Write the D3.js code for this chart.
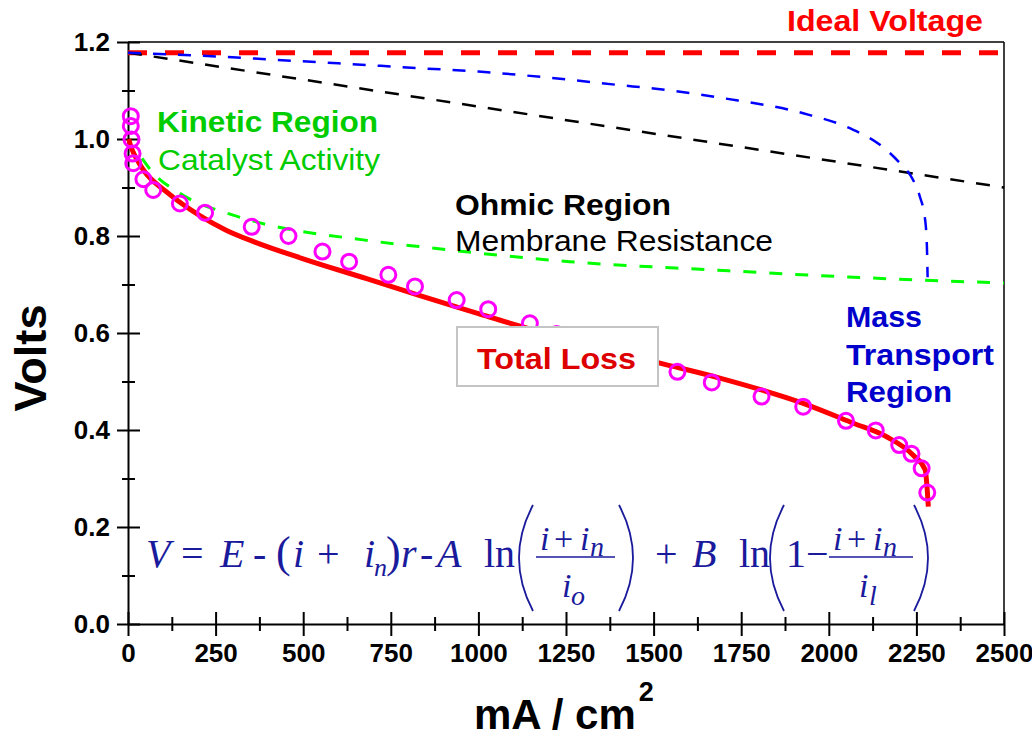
<!DOCTYPE html>
<html><head><meta charset="utf-8">
<script src="https://cdn.jsdelivr.net/npm/d3@7"></script>
<style>body{margin:0;background:#fff} svg{display:block}</style>
</head><body>
<svg id="chart" width="1032" height="739"></svg>
<script>
// ---------- data ----------
const yTicks = [0, 0.2, 0.4, 0.6, 0.8, 1.0, 1.2];
const yMinorTicks = [0.1, 0.3, 0.5, 0.7, 0.9, 1.1];
const xTicks = [0, 250, 500, 750, 1000, 1250, 1500, 1750, 2000, 2250, 2500];
const xMinorTicks = [125, 375, 625, 875, 1125, 1375, 1625, 1875, 2125, 2375];

const idealI = [0, 2500];
const idealV = [1.178, 1.178];

const ohmicI = [0, 2500];
const ohmicV = [1.178, 0.900];

const massI = [0, 200, 405, 600, 833, 1000, 1119, 1250, 1404, 1500, 1700, 1927, 2070, 2146, 2203, 2241, 2260, 2275, 2280, 2282];
const massV = [1.178, 1.172, 1.164, 1.156, 1.146, 1.139, 1.132, 1.123, 1.111, 1.104, 1.084, 1.053, 1.019, 0.988, 0.950, 0.915, 0.881, 0.833, 0.778, 0.715];

const kineticI = [40, 68, 148, 300, 377, 671, 833, 1261, 1670, 2070, 2500];
const kineticV = [0.960, 0.933, 0.888, 0.843, 0.827, 0.792, 0.778, 0.747, 0.730, 0.715, 0.703];

const totalI = [2, 8, 18, 30, 45, 110, 205, 280, 360, 500, 681, 833, 1000, 1119, 1300, 1518, 1689, 1927, 2070, 2165, 2241, 2275, 2281, 2284];
const totalV = [1.000, 0.985, 0.968, 0.952, 0.935, 0.891, 0.842, 0.812, 0.788, 0.753, 0.712, 0.677, 0.640, 0.614, 0.578, 0.538, 0.507, 0.455, 0.414, 0.386, 0.348, 0.318, 0.276, 0.242];

const measI = [8, 8, 10, 13, 15, 44, 72, 148, 220, 353, 458, 555, 631, 743, 819, 938, 1028, 1147, 1223, 1330, 1440, 1568, 1666, 1808, 1927, 2049, 2134, 2201, 2236, 2265, 2281];
const measV = [1.047, 1.027, 0.999, 0.970, 0.950, 0.917, 0.895, 0.867, 0.848, 0.819, 0.800, 0.768, 0.747, 0.720, 0.696, 0.668, 0.649, 0.620, 0.598, 0.580, 0.558, 0.520, 0.498, 0.469, 0.448, 0.419, 0.399, 0.369, 0.351, 0.321, 0.271];

// ---------- setup ----------
const svg = d3.select("#chart");
const x = d3.scaleLinear().domain([0, 2500]).range([128, 1004]);
const y = d3.scaleLinear().domain([0, 1.2]).range([624, 42]);
const SANS = "'Liberation Sans', Arial, sans-serif";
const SERIF = "'Liberation Serif', 'Times New Roman', serif";

const zip = (a, b) => a.map((v, i) => [v, b[i]]);
const line = d3.line().x(d => x(d[0])).y(d => y(d[1])).curve(d3.curveMonotoneX);

// frame
svg.append("line").attr("x1", x(0)).attr("x2", x(2500)).attr("y1", y(1.2)).attr("y2", y(1.2))
  .attr("stroke", "#000").attr("stroke-width", 1.5);
svg.append("line").attr("x1", x(2500)).attr("x2", x(2500)).attr("y1", y(1.2)).attr("y2", y(0))
  .attr("stroke", "#000").attr("stroke-width", 1.5);

// axes
function styleAxis(g, inner, outer, vertical) {
  g.select(".domain").attr("stroke", "#000").attr("stroke-width", 2);
  g.selectAll(".tick line").attr("stroke", "#000").attr("stroke-width", 2);
  if (vertical) g.selectAll(".tick line").attr("x1", inner).attr("x2", -outer);
  else g.selectAll(".tick line").attr("y1", -inner).attr("y2", outer);
}
const gy = svg.append("g").attr("transform", `translate(${x(0)},0)`)
  .call(d3.axisLeft(y).tickValues(yTicks).tickFormat(d3.format(".1f")).tickSize(1).tickSizeOuter(0).tickPadding(17));
styleAxis(gy, 12, 11, true);
gy.selectAll(".tick text").attr("font-family", SANS).attr("font-weight", "bold").attr("font-size", 26).attr("fill", "#000");
const gy2 = svg.append("g").attr("transform", `translate(${x(0)},0)`)
  .call(d3.axisLeft(y).tickValues(yMinorTicks).tickFormat("").tickSize(1).tickSizeOuter(0));
styleAxis(gy2, 7, 6, true);
gy2.select(".domain").remove();

const gx = svg.append("g").attr("transform", `translate(0,${y(0)})`)
  .call(d3.axisBottom(x).tickValues(xTicks).tickFormat(d3.format("d")).tickSize(1).tickSizeOuter(0).tickPadding(19));
styleAxis(gx, 12, 12, false);
gx.selectAll(".tick text").attr("font-family", SANS).attr("font-weight", "bold").attr("font-size", 26).attr("fill", "#000");
const gx2 = svg.append("g").attr("transform", `translate(0,${y(0)})`)
  .call(d3.axisBottom(x).tickValues(xMinorTicks).tickFormat("").tickSize(1).tickSizeOuter(0));
styleAxis(gx2, 7, 7, false);
gx2.select(".domain").remove();

// curves
svg.append("path").datum(zip(idealI, idealV)).attr("d", line).attr("fill", "none")
  .attr("stroke", "#ff0000").attr("stroke-width", 5).attr("stroke-dasharray", "19,18");
svg.append("path").datum(zip(ohmicI, ohmicV)).attr("d", line).attr("fill", "none")
  .attr("stroke", "#000").attr("stroke-width", 2.5).attr("stroke-dasharray", "14,12");
svg.append("path").datum(zip(massI, massV)).attr("d", line).attr("fill", "none")
  .attr("stroke", "#0000ff").attr("stroke-width", 2.5).attr("stroke-dasharray", "13,12");
svg.append("path").datum(zip(kineticI, kineticV)).attr("d", line).attr("fill", "none")
  .attr("stroke", "#00ff00").attr("stroke-width", 3).attr("stroke-dasharray", "13,13");
svg.append("path").datum(zip(totalI, totalV)).attr("d", line).attr("fill", "none")
  .attr("stroke", "#ff0000").attr("stroke-width", 5);

svg.append("g").selectAll("circle").data(zip(measI, measV)).join("circle")
  .attr("cx", d => x(d[0])).attr("cy", d => y(d[1])).attr("r", 7.5)
  .attr("fill", "none").attr("stroke", "#ff00ff").attr("stroke-width", 3);

// Total Loss box
svg.append("rect").attr("x", 457).attr("y", 327).attr("width", 201).attr("height", 59)
  .attr("fill", "#fff").attr("stroke", "#c4c4c4").attr("stroke-width", 2);

// labels
function label(t, xx, yy, size, weight, color, len) {
  const el = svg.append("text").attr("x", xx).attr("y", yy).text(t)
    .attr("font-family", SANS).attr("font-size", size).attr("font-weight", weight).attr("fill", color);
  if (len) el.attr("textLength", len).attr("lengthAdjust", "spacingAndGlyphs");
  return el;
}
label("Ideal Voltage", 787, 31, 29, "bold", "#ff0000", 196);
label("Kinetic Region", 157, 132, 29, "bold", "#00cc00", 221);
label("Catalyst Activity", 158, 170, 30, "normal", "#00cc00", 222);
label("Ohmic Region", 455, 215, 29, "bold", "#000", 216);
label("Membrane Resistance", 455, 251, 30, "normal", "#000", 318);
label("Total Loss", 477, 369, 30, "bold", "#dd0000", 159);
label("Mass", 846, 327, 29, "bold", "#0000cc", 76);
label("Transport", 846, 365, 29, "bold", "#0000cc", 148);
label("Region", 846, 402, 29, "bold", "#0000cc", 106);

// axis titles
svg.append("text").attr("transform", "translate(46,358) rotate(-90)").attr("text-anchor", "middle")
  .attr("font-family", SANS).attr("font-weight", "bold").attr("font-size", 44).text("Volts")
  .attr("textLength", 107).attr("lengthAdjust", "spacingAndGlyphs");
const xt = svg.append("text").attr("x", 474).attr("y", 729)
  .attr("font-family", SANS).attr("font-weight", "bold").attr("font-size", 42).attr("fill", "#000");
xt.append("tspan").text("mA / cm");
xt.append("tspan").attr("dx", 3).attr("dy", -28).attr("font-size", 27).text("2");

// equation
const EQ = "#1a1a9c";
const eqPieces = [
  {t: "V", x: 146, it: 1}, {t: "=", x: 181}, {t: "E", x: 220, it: 1}, {t: "-", x: 253},
  {t: "(", x: 276, s: 44}, {t: "i", x: 293, it: 1}, {t: "+", x: 317}, {t: "i", x: 364, it: 1},
  {t: "n", x: 374, y: 576, s: 26, it: 1}, {t: ")", x: 386, s: 44}, {t: "r", x: 401, it: 1},
  {t: "-", x: 420}, {t: "A", x: 437, it: 1}, {t: "ln", x: 484},
  {t: "i", x: 540, y: 550, s: 34, it: 1}, {t: "+", x: 554, y: 550, s: 34}, {t: "i", x: 580, y: 550, s: 34, it: 1},
  {t: "n", x: 590, y: 556, s: 28, it: 1},
  {t: "i", x: 562, y: 597, s: 34, it: 1}, {t: "o", x: 571, y: 605, s: 28, it: 1},
  {t: "+", x: 655}, {t: "B", x: 692, it: 1}, {t: "ln", x: 739}, {t: "1\u2212", x: 786},
  {t: "i", x: 833, y: 550, s: 34, it: 1}, {t: "+", x: 847, y: 550, s: 34}, {t: "i", x: 873, y: 550, s: 34, it: 1},
  {t: "n", x: 883, y: 556, s: 28, it: 1},
  {t: "i", x: 859, y: 597, s: 34, it: 1}, {t: "l", x: 869, y: 605, s: 28, it: 1}
];
svg.append("g").selectAll("text").data(eqPieces).join("text")
  .attr("x", d => d.x).attr("y", d => d.y || 567).text(d => d.t)
  .attr("font-family", SERIF).attr("font-size", d => d.s || 40)
  .attr("font-style", d => d.it ? "italic" : "normal").attr("fill", EQ);
[[536, 615], [829, 913]].forEach(b => svg.append("line").attr("x1", b[0]).attr("x2", b[1])
  .attr("y1", 557).attr("y2", 557).attr("stroke", EQ).attr("stroke-width", 1.5));
function paren(xx, left) {
  const top = 505, bot = 611, mid = (top + bot) / 2;
  const d = left ? `M${xx + 15},${top} Q${xx - 13},${mid} ${xx + 15},${bot}`
                 : `M${xx},${top} Q${xx + 28},${mid} ${xx},${bot}`;
  svg.append("path").attr("d", d).attr("fill", "none").attr("stroke", EQ).attr("stroke-width", 1.8);
}
paren(518, true); paren(619, false); paren(769, true); paren(914, false);
</script>
</body></html>
